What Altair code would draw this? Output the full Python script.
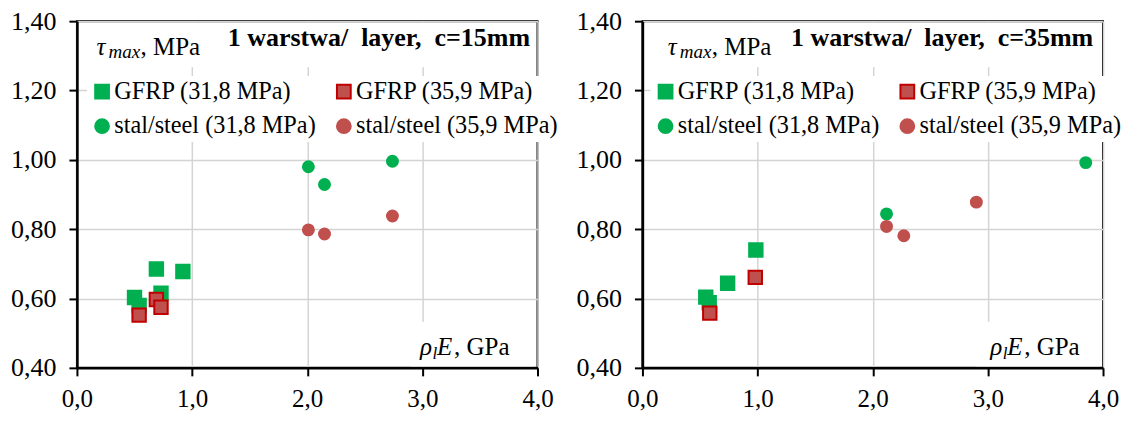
import altair as alt
import pandas as pd

FONT = "'Times New Roman', 'Liberation Serif', serif"

series_names = ["GFRP (31,8 MPa)", "GFRP (35,9 MPa)",
                "stal/steel (31,8 MPa)", "stal/steel (35,9 MPa)"]
fill_colors = ["#00b050", "#c0504d", "#00b050", "#c0504d"]
stroke_colors = ["#00b050", "#c00000", "#00b050", "#c0504d"]
shapes = ["square", "square", "circle", "circle"]

x_ticks = [0, 1, 2, 3, 4]
y_ticks = [0.4, 0.6, 0.8, 1.0, 1.2, 1.4]

# Panel 1: 1 warstwa / layer, c=15mm
p1_gfrp318_x = [0.50, 0.54, 0.69, 0.73, 0.92]
p1_gfrp318_y = [0.603, 0.580, 0.685, 0.615, 0.678]
p1_gfrp359_x = [0.54, 0.69, 0.73]
p1_gfrp359_y = [0.552, 0.597, 0.575]
p1_steel318_x = [2.01, 2.15, 2.74]
p1_steel318_y = [0.980, 0.929, 0.996]
p1_steel359_x = [2.01, 2.15, 2.74]
p1_steel359_y = [0.798, 0.786, 0.838]

# Panel 2: 1 warstwa / layer, c=35mm
p2_gfrp318_x = [0.55, 0.58, 0.74, 0.985]
p2_gfrp318_y = [0.604, 0.588, 0.644, 0.740]
p2_gfrp359_x = [0.585, 0.98]
p2_gfrp359_y = [0.558, 0.661]
p2_steel318_x = [2.12, 3.85]
p2_steel318_y = [0.844, 0.992]
p2_steel359_x = [2.12, 2.27, 2.90]
p2_steel359_y = [0.808, 0.781, 0.878]


def make_df(groups):
    rows = []
    for name, xs, ys in groups:
        for a, b in zip(xs, ys):
            rows.append({"x": a, "y": b, "series": name})
    return pd.DataFrame(rows)


df1 = make_df([
    (series_names[0], p1_gfrp318_x, p1_gfrp318_y),
    (series_names[1], p1_gfrp359_x, p1_gfrp359_y),
    (series_names[2], p1_steel318_x, p1_steel318_y),
    (series_names[3], p1_steel359_x, p1_steel359_y),
])
df2 = make_df([
    (series_names[0], p2_gfrp318_x, p2_gfrp318_y),
    (series_names[1], p2_gfrp359_x, p2_gfrp359_y),
    (series_names[2], p2_steel318_x, p2_steel318_y),
    (series_names[3], p2_steel359_x, p2_steel359_y),
])

ONE = alt.Data(values=[{}])


def txt(text, x, y, size=25, style="normal", weight="normal", align="left", dx=0, dy=0):
    return alt.Chart(ONE).mark_text(
        text=text, font=FONT, fontSize=size, fontStyle=style, fontWeight=weight,
        align=align, baseline="alphabetic", dx=dx, dy=dy, color="black"
    ).encode(x=alt.datum(x), y=alt.datum(y))


def box(x0, x1, y0, y1):
    return alt.Chart(ONE).mark_rect(color="white", opacity=1).encode(
        x=alt.datum(x0), x2=alt.datum(x1), y=alt.datum(y0), y2=alt.datum(y1))


def points(df, names, size, leg):
    return alt.Chart(df).transform_filter(
        alt.FieldOneOfPredicate(field="series", oneOf=names)
    ).mark_point(filled=True, strokeWidth=2, opacity=1, size=size).encode(
        x=alt.X("x:Q", title=None,
                scale=alt.Scale(domain=[0, 4], nice=False, zero=False),
                axis=alt.Axis(values=x_ticks, labelFlush=False, labelOverlap=False,
                              labelFontSize=25, labelPadding=11,
                              labelExpr="replace(format(datum.value, '.1f'), '.', ',')")),
        y=alt.Y("y:Q", title=None,
                scale=alt.Scale(domain=[0.4, 1.4], nice=False, zero=False),
                axis=alt.Axis(values=y_ticks, labelOverlap=False,
                              labelExpr="replace(format(datum.value, '.2f'), '.', ',')")),
        fill=alt.Fill("series:N", scale=alt.Scale(domain=series_names, range=fill_colors), legend=leg),
        stroke=alt.Stroke("series:N", scale=alt.Scale(domain=series_names, range=stroke_colors), legend=leg),
        shape=alt.Shape("series:N", scale=alt.Scale(domain=series_names, range=shapes), legend=leg),
    )


def panel(df, title, tau_x, title_x, rho_x, leg_x):
    leg = alt.Legend(title=None, orient="none", legendX=leg_x, legendY=55, columns=2,
                     direction="horizontal")
    layers = [
        points(df, series_names[:2], 180, leg),
        points(df, series_names[2:], 120, leg),
        box(0.03, 3.97, 1.267, 1.395),
        box(2.9, 3.97, 0.405, 0.533),
        txt("τ", tau_x, 1.302, style="italic"),
        txt("max", tau_x, 1.302, size=19, style="italic", dx=12, dy=3),
        txt(", MPa", tau_x, 1.302, dx=44),
        txt(title, title_x, 1.329, size=26, weight="bold", align="right"),
        txt("ρ", rho_x, 0.4375, style="italic"),
        txt("l", rho_x, 0.4375, size=17, style="italic", dx=12.5, dy=4),
        txt("E", rho_x, 0.4375, style="italic", dx=17),
        txt(", GPa", rho_x, 0.4375, dx=34),
    ]
    return alt.layer(*layers).properties(width=461, height=347)


c1 = panel(df1, "1 warstwa/\u00a0 layer,\u00a0 c=15mm", 0.17, 3.935, 2.98, 10)
c2 = panel(df2, "1 warstwa/\u00a0 layer,\u00a0 c=35mm", 0.22, 3.915, 3.02, 8)

chart = alt.hconcat(c1, c2, spacing=12).resolve_scale(
    fill="independent", stroke="independent", shape="independent"
).resolve_legend(
    fill="independent", stroke="independent", shape="independent"
).properties(
    padding={"left": 1, "top": -1, "right": -3, "bottom": 0}
).configure_view(
    stroke="black", strokeWidth=2
).configure_axis(
    domainColor="black", domainWidth=2.5, tickColor="black", tickWidth=2, tickSize=8,
    labelFont=FONT, labelFontSize=26, labelColor="black", labelPadding=13,
    gridColor="#d4d4d4", gridWidth=1.5
).configure_legend(
    fillColor="white", padding=3, labelFont=FONT, labelFontSize=24.3,
    labelColor="black", symbolSize=190, symbolStrokeWidth=2,
    columnPadding=15, rowPadding=10, labelOffset=0, labelLimit=400
)

chart.save("out.html", embed_options={"renderer": "svg", "actions": False})
